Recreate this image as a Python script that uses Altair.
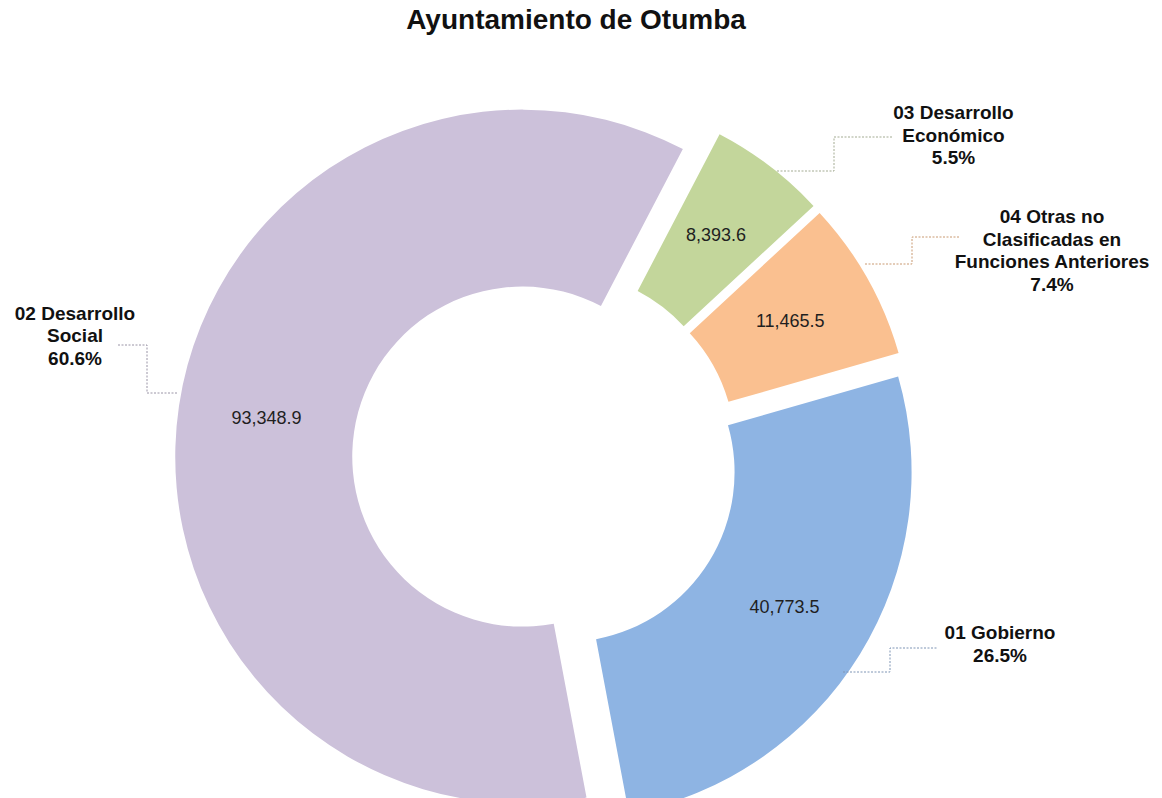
import math
import altair as alt
import pandas as pd

# ---------------- data ----------------
TITLE = "Ayuntamiento de Otumba"
CATEGORIES = [
    "01 Gobierno",
    "02 Desarrollo Social",
    "03 Desarrollo Económico",
    "04 Otras no Clasificadas en Funciones Anteriores",
]
VALUES = [40773.5, 93348.9, 8393.6, 11465.5]
LABEL_NAMES = [
    "01 Gobierno",
    "02 Desarrollo\nSocial",
    "03 Desarrollo\nEconómico",
    "04 Otras no\nClasificadas en\nFunciones Anteriores",
]

# ---------------- styles ----------------
FONT = "Liberation Sans"
SLICE_COLORS = ["#8EB4E3", "#CCC1DA", "#C3D69B", "#FAC090"]
LEADER_COLORS = ["#7f95b5", "#9a94a6", "#a3ab92", "#c99a72"]

# ---------------- layout (pixels) ----------------
W, H = 1146, 790
CX, CY = 537, 452
R_OUT, R_IN = 347, 170
EXPLODE = 23
START = math.radians(74)
LABEL_X = [992, 67, 945.5, 1044]
LABEL_Y = [631, 311.5, 111, 215]
LEADER_X = [
    [835, 882, 882, 930],
    [169, 139, 139, 110],
    [769, 826, 826, 884],
    [857, 904, 904, 952],
]
LEADER_Y = [
    [664, 664, 640, 640],
    [385, 385, 337, 337],
    [163, 163, 129, 129],
    [256, 256, 229, 229],
]

df = pd.DataFrame({
    "category": CATEGORIES,
    "value": VALUES,
    "order": list(range(len(CATEGORIES))),
    "name": LABEL_NAMES,
    "lx": LABEL_X,
    "ly": LABEL_Y,
})

leader_rows = []
for i, cat in enumerate(CATEGORIES):
    for j in range(len(LEADER_X[i])):
        leader_rows.append({"category": cat, "seq": j, "x": LEADER_X[i][j], "y": LEADER_Y[i][j]})
leaders_df = pd.DataFrame(leader_rows)

base = (
    alt.Chart(df)
    .transform_joinaggregate(total="sum(value)")
    .transform_window(cum="sum(value)", sort=[alt.SortField("order", order="ascending")])
    .transform_calculate(
        mid=f"{START} + 2*PI*(datum.cum - datum.value/2)/datum.total",
    )
    .transform_calculate(
        px=f"{CX} + {EXPLODE}*sin(datum.mid)",
        py=f"{CY} - {EXPLODE}*cos(datum.mid)",
        label="datum.name + '\\n' + format(datum.value/datum.total, '.1%')",
    )
)

theta = alt.Theta(
    "value:Q", stack=True,
    scale=alt.Scale(range=[START, START + 2 * math.pi]),
)
xpos = alt.X("px:Q", scale=None, axis=None)
ypos = alt.Y("py:Q", scale=None, axis=None)

arcs = base.mark_arc(outerRadius=R_OUT, innerRadius=R_IN).encode(
    theta=theta,
    order=alt.Order("order:Q", sort="ascending"),
    color=alt.Color("category:N", scale=alt.Scale(domain=CATEGORIES, range=SLICE_COLORS), legend=None),
    x=xpos,
    y=ypos,
)

values = base.mark_text(
    radius=(R_OUT + R_IN) / 2, font=FONT, fontSize=18, color="#1f1f1f",
    align="center", baseline="middle",
).encode(
    theta=theta,
    order=alt.Order("order:Q", sort="ascending"),
    x=xpos,
    y=ypos,
    text=alt.Text("value:Q", format=",.1f"),
)

labels = base.mark_text(
    font=FONT, fontSize=19, fontWeight="bold", color="#111111",
    align="center", baseline="alphabetic", lineBreak="\n", lineHeight=22.5,
).encode(
    x=alt.X("lx:Q", scale=None, axis=None),
    y=alt.Y("ly:Q", scale=None, axis=None),
    text="label:N",
)

leaders = alt.Chart(leaders_df).mark_line(strokeWidth=1, strokeDash=[2, 1.5]).encode(
    x=alt.X("x:Q", scale=None, axis=None),
    y=alt.Y("y:Q", scale=None, axis=None),
    order="seq:Q",
    stroke=alt.Stroke("category:N", scale=alt.Scale(domain=CATEGORIES, range=LEADER_COLORS), legend=None),
)

title = alt.Chart(pd.DataFrame({"t": [TITLE]})).mark_text(
    font=FONT, fontSize=28, fontWeight="bold", color="#111111",
    align="center", baseline="alphabetic",
).encode(
    x=alt.value(568),
    y=alt.value(21),
    text="t:N",
)

chart = alt.layer(arcs, values, leaders, labels, title).properties(
    width=W, height=H,
    autosize=alt.AutoSizeParams(type="none"),
    padding=0,
    background="white",
).configure_view(stroke=None)

chart.save("out.html", embed_options={"renderer": "svg", "actions": False})
